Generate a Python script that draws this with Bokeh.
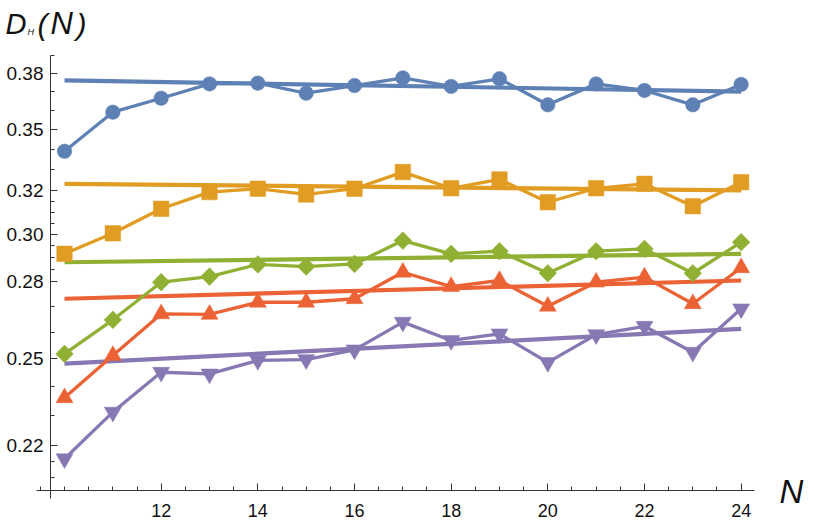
import math
from bokeh.plotting import figure
from bokeh.models import FixedTicker, PrintfTickFormatter, Range1d, Label
from bokeh.embed import file_html
from bokeh.resources import INLINE

# ---- data ----
N = [10, 11, 12, 13, 14, 15, 16, 17, 18, 19, 20, 21, 22, 23, 24]
blue = [0.3389, 0.3589, 0.3663, 0.3741, 0.3745, 0.3690, 0.3732, 0.3774,
        0.3727, 0.3769, 0.3628, 0.3741, 0.3705, 0.3628, 0.3738]
orange = [0.2916, 0.3005, 0.3115, 0.3192, 0.3208, 0.3181, 0.3208, 0.3287,
          0.3210, 0.3252, 0.3145, 0.3210, 0.3231, 0.3127, 0.3239]
green = [0.2518, 0.2647, 0.2797, 0.2820, 0.2871, 0.2862, 0.2873, 0.2973,
         0.2916, 0.2927, 0.2834, 0.2927, 0.2937, 0.2834, 0.2966]
red = [0.2361, 0.2512, 0.2670, 0.2668, 0.2716, 0.2716, 0.2730, 0.2838,
       0.2779, 0.2804, 0.2700, 0.2797, 0.2818, 0.2710, 0.2857]
purple = [0.2159, 0.2312, 0.2451, 0.2445, 0.2494, 0.2497, 0.2533, 0.2638,
          0.2568, 0.2593, 0.2487, 0.2590, 0.2622, 0.2524, 0.2690]

fit_N = [10, 24]
fit_blue = [0.3760, 0.3699]
fit_orange = [0.3231, 0.3200]
fit_green = [0.2880, 0.2916]
fit_red = [0.2730, 0.2804]
fit_purple = [0.2482, 0.2612]

y_major = [0.22, 0.25, 0.28, 0.30, 0.32, 0.35, 0.38]
y_minor = [0.21, 0.215, 0.23, 0.24, 0.26, 0.27, 0.285, 0.29, 0.295,
           0.305, 0.31, 0.315, 0.33, 0.34, 0.36, 0.37, 0.39]
x_major = [12, 14, 16, 18, 20, 22, 24]
x_minor = [9.5 + 0.5 * i for i in range(30)]

C_BLUE = "#5E81B5"
C_ORANGE = "#E19C24"
C_GREEN = "#8FB032"
C_RED = "#EB6235"
C_PURPLE = "#8778B3"

FONT = "Liberation Sans"
INK = "#111111"

# canvas = frame; axes drawn at fixed data locations (Mathematica-like)
W, H = 810, 520
p = figure(width=W, height=H, y_axis_type="log",
           x_range=Range1d(8.6755, 25.435), y_range=Range1d(0.19722, 0.42275),
           output_backend="svg", toolbar_location=None,
           min_border_left=0, min_border_right=0,
           min_border_top=0, min_border_bottom=0)
p.title.visible = False
p.outline_line_color = None
p.xgrid.visible = False
p.ygrid.visible = False
p.background_fill_color = "white"

for ax in (p.xaxis[0], p.yaxis[0]):
    ax.axis_line_color = "#333333"
    ax.axis_line_width = 1
    ax.major_tick_line_color = "#333333"
    ax.minor_tick_line_color = "#333333"
    ax.major_tick_in = 7
    ax.major_tick_out = 0
    ax.minor_tick_in = 4
    ax.minor_tick_out = 0
    ax.major_label_text_font = FONT
    ax.major_label_text_color = INK

p.yaxis.fixed_location = 9.71
p.yaxis.bounds = (0.2037, 0.39)
p.yaxis.ticker = FixedTicker(ticks=y_major, minor_ticks=y_minor)
p.yaxis.formatter = PrintfTickFormatter(format="%.2f")
p.yaxis.major_label_standoff = 7
p.yaxis.major_label_text_font_size = "19px"

p.xaxis.fixed_location = 0.2061
p.xaxis.bounds = (9.42, 24.28)
p.xaxis.ticker = FixedTicker(ticks=x_major, minor_ticks=x_minor)
p.xaxis.formatter = PrintfTickFormatter(format="%d")
p.xaxis.major_label_standoff = 14
p.xaxis.major_label_text_font_size = "18px"

series = [
    (blue, fit_blue, C_BLUE, "circle", 14.5, 0),
    (orange, fit_orange, C_ORANGE, "square", 15.5, 0),
    (green, fit_green, C_GREEN, "square", 12.5, math.pi / 4),
    (red, fit_red, C_RED, "triangle", 17, 0),
    (purple, fit_purple, C_PURPLE, "inverted_triangle", 17, 0),
]

for vals, fit, col, mk, sz, ang in series:
    p.line(fit_N, fit, line_color=col, line_width=4.2)
for vals, fit, col, mk, sz, ang in series:
    p.line(N, vals, line_color=col, line_width=3.3)
    p.scatter(N, vals, marker=mk, size=sz, angle=ang,
              fill_color=col, line_color=col, line_width=0.5)


def add_text(txt, x, y_center, size):
    p.add_layout(Label(x=x, y=H - y_center, x_units="screen", y_units="screen",
                       text=txt, text_font=FONT, text_font_style="italic",
                       text_font_size=size, text_color=INK,
                       text_baseline="middle", text_align="left"))


# y-axis title  D_H(N)
add_text("D", 5, 23, "29px")
add_text("H", 27, 31, "9px")
add_text("(", 37, 24, "30px")
add_text("N", 50, 23, "31px")
add_text(")", 76, 24, "30px")
# x-axis title  N
add_text("N", 779, 491, "33px")

open("out.html", "w").write(file_html(p, INLINE))
